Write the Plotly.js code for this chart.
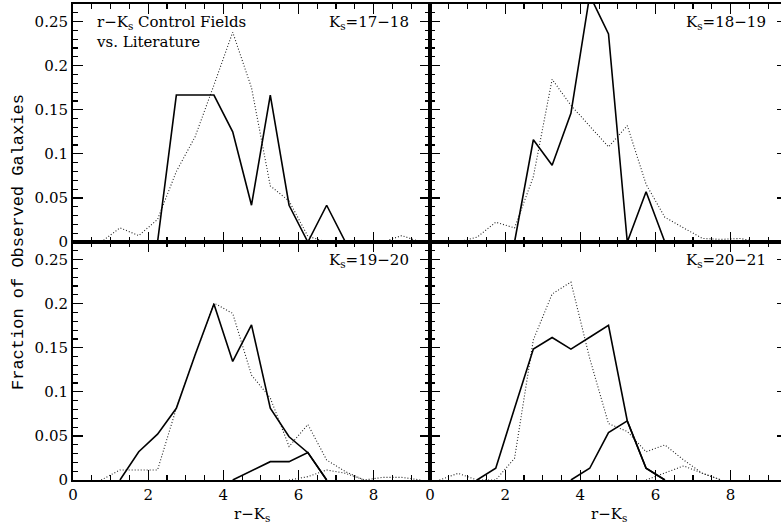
<!DOCTYPE html>
<html>
<head>
<meta charset="utf-8">
<script src="https://cdn.plot.ly/plotly-3.0.1.min.js"></script>
<style>
html,body{margin:0;padding:0;overflow:hidden;background:#fff;}
#chart{width:790px;height:527px;}
</style>
</head>
<body>
<div id="chart"></div>
<script>
// ---- Data (bin centres in r-Ks, fraction of galaxies) ----
// Panel Ks=17-18
var p1SolidX = [2.25,2.75,3.25,3.75,4.25,4.75,5.25,5.75,6.25,6.75,7.25];
var p1SolidY = [0,0.1667,0.1667,0.1667,0.125,0.0417,0.1667,0.0417,0,0.0417,0];
var p1DotX = [0.75,1.25,1.75,2.25,2.75,3.25,3.75,4.25,4.75,5.25,5.75,6.25,6.75,7.25,7.75,8.25,8.75,9.25];
var p1DotY = [0,0.016,0.0073,0.0256,0.080,0.1195,0.178,0.238,0.175,0.0636,0.0465,0.0065,0,0,0,0,0.0073,0];
// Panel Ks=18-19
var p2SolidX = [2.25,2.75,3.25,3.75,4.25,4.75,5.25,5.75,6.25];
var p2SolidY = [0,0.116,0.087,0.146,0.28,0.236,0,0.057,0];
var p2DotX = [0.75,1.25,1.75,2.25,2.75,3.25,3.75,4.25,4.75,5.25,5.75,6.25,6.75,7.25,7.75,8.25,8.75];
var p2DotY = [0,0.0054,0.0225,0.016,0.074,0.1846,0.155,0.132,0.108,0.132,0.0655,0.028,0.016,0.004,0.003,0.004,0];
// Panel Ks=19-20
var p3SolidX = [1.25,1.75,2.25,2.75,3.25,3.75,4.25,4.75,5.25,5.75,6.25,6.75];
var p3SolidY = [0,0.032,0.052,0.0814,0.142,0.1996,0.1345,0.176,0.0814,0.049,0.031,0];
var p3Solid2X = [4.25,4.75,5.25,5.75,6.25,6.75];
var p3Solid2Y = [0,0.0104,0.0208,0.0208,0.0312,0];
var p3DotX = [0.75,1.25,1.75,2.25,2.75,3.25,3.75,4.25,4.75,5.25,5.75,6.25,6.75,7.25,7.75,8.25,8.75,9.25];
var p3DotY = [0,0.0114,0.0114,0.0114,0.0814,0.14,0.2008,0.189,0.119,0.093,0.038,0.063,0.0227,0.0095,0,0.003,0.003,0];
var p3Dot2X = [5.75,6.25,6.75,7.25,7.75];
var p3Dot2Y = [0,0.0038,0.0114,0.0076,0];
// Panel Ks=20-21
var p4SolidX = [1.25,1.75,2.25,2.75,3.25,3.75,4.25,4.75,5.25,5.75,6.25];
var p4SolidY = [0,0.0133,0.0814,0.1485,0.1617,0.1485,0.162,0.1754,0.067,0.0133,0];
var p4Solid2X = [3.75,4.25,4.75,5.25,5.75,6.25];
var p4Solid2Y = [0,0.0133,0.0538,0.067,0.0133,0];
var p4DotX = [0.25,0.75,1.25,1.75,2.25,2.75,3.25,3.75,4.25,4.75,5.25,5.75,6.25,6.75,7.25,7.75];
var p4DotY = [0,0.0076,0,0,0.0246,0.159,0.211,0.2246,0.138,0.064,0.055,0.032,0.0398,0.0227,0.0076,0];
var p4Dot2X = [5.75,6.25,6.75,7.25,7.75];
var p4Dot2Y = [0,0.0076,0.016,0.0076,0];

var panelLabels = ['K<sub>s</sub>=17\u221218','K<sub>s</sub>=18\u221219','K<sub>s</sub>=19\u221220','K<sub>s</sub>=20\u221221'];
var xTitle = 'r\u2212K<sub>s</sub>';
var yTitle = 'Fraction of Observed Galaxies';
var noteText = 'r\u2212K<sub>s</sub> Control Fields<br>vs. Literature';

// ---- Traces ----
var solid = {color:'#000', width:1.6, dash:'solid'};
var dotted = {color:'#222', width:1.1, dash:'1px,2px'};
function tr(x,y,ax,ln){
  return {x:x, y:y, xaxis:'x'+ax, yaxis:'y'+ax, type:'scatter', mode:'lines',
          line:ln, hoverinfo:'skip', showlegend:false, cliponaxis:true};
}
var data = [
  tr(p1DotX,p1DotY,'',dotted), tr(p1SolidX,p1SolidY,'',solid),
  tr(p2DotX,p2DotY,'2',dotted), tr(p2SolidX,p2SolidY,'2',solid),
  tr(p3DotX,p3DotY,'3',dotted), tr(p3Dot2X,p3Dot2Y,'3',dotted),
  tr(p3SolidX,p3SolidY,'3',solid), tr(p3Solid2X,p3Solid2Y,'3',solid),
  tr(p4DotX,p4DotY,'4',dotted), tr(p4Dot2X,p4Dot2Y,'4',dotted),
  tr(p4SolidX,p4SolidY,'4',solid), tr(p4Solid2X,p4Solid2Y,'4',solid)
];

var tickFont = {family:'DejaVu Serif', size:15, color:'#000'};
function xax(dom, anchor, labels){
  return {domain:dom, anchor:anchor, range:[0,9.5], showline:true, linecolor:'#000', linewidth:2,
    mirror:'ticks', ticks:'inside', ticklen:10, tickwidth:1.2, tickcolor:'#000', dtick:2, tick0:0,
    minor:{ticks:'inside', ticklen:5, dtick:0.5, tickwidth:1.2, tickcolor:'#000'},
    showgrid:false, zeroline:false, showticklabels:labels, tickfont:tickFont, fixedrange:true};
}
function yax(dom, anchor, labels){
  return {domain:dom, anchor:anchor, range:[0,0.27], showline:true, linecolor:'#000', linewidth:2,
    mirror:'ticks', ticks:'inside', ticklen:10, tickwidth:1.2, tickcolor:'#000', dtick:0.05, tick0:0,
    minor:{ticks:'inside', ticklen:5, dtick:0.01, tickwidth:1.2, tickcolor:'#000'},
    showgrid:false, zeroline:false, showticklabels:labels, tickfont:tickFont, fixedrange:true};
}
var txtFont = {family:'DejaVu Serif', size:15, color:'#000'};
var layout = {
  width:790, height:527,
  margin:{l:73, r:3, t:4, b:47},
  paper_bgcolor:'#fff', plot_bgcolor:'#fff',
  xaxis: xax([0,0.5],'y',false),  yaxis: yax([0.5,1],'x',true),
  xaxis2:xax([0.5,1],'y2',false), yaxis2:yax([0.5,1],'x2',false),
  xaxis3:xax([0,0.5],'y3',true),  yaxis3:yax([0,0.5],'x3',true),
  xaxis4:xax([0.5,1],'y4',true),  yaxis4:yax([0,0.5],'x4',false),
  annotations:[
    {text:panelLabels[0], xref:'x', yref:'y', x:9.0, y:0.262, xanchor:'right', yanchor:'top', showarrow:false, font:txtFont},
    {text:panelLabels[1], xref:'x2', yref:'y2', x:9.0, y:0.262, xanchor:'right', yanchor:'top', showarrow:false, font:txtFont},
    {text:panelLabels[2], xref:'x3', yref:'y3', x:9.0, y:0.262, xanchor:'right', yanchor:'top', showarrow:false, font:txtFont},
    {text:panelLabels[3], xref:'x4', yref:'y4', x:9.0, y:0.262, xanchor:'right', yanchor:'top', showarrow:false, font:txtFont},
    {text:noteText, xref:'x', yref:'y', x:0.55, y:0.262, xanchor:'left', yanchor:'top', align:'left', showarrow:false, font:txtFont},
    {text:xTitle, xref:'x3 domain', yref:'paper', x:0.5, y:0, yshift:-46, xanchor:'center', yanchor:'bottom', showarrow:false, font:txtFont},
    {text:xTitle, xref:'x4 domain', yref:'paper', x:0.5, y:0, yshift:-46, xanchor:'center', yanchor:'bottom', showarrow:false, font:txtFont},
    {text:yTitle, xref:'paper', yref:'paper', x:0, xshift:-55, y:0.5, textangle:-90, xanchor:'center', yanchor:'middle', showarrow:false,
     font:{family:'Liberation Mono', size:17, color:'#000'}}
  ]
};
Plotly.newPlot('chart', data, layout, {staticPlot:true, displayModeBar:false});
</script>
</body>
</html>
